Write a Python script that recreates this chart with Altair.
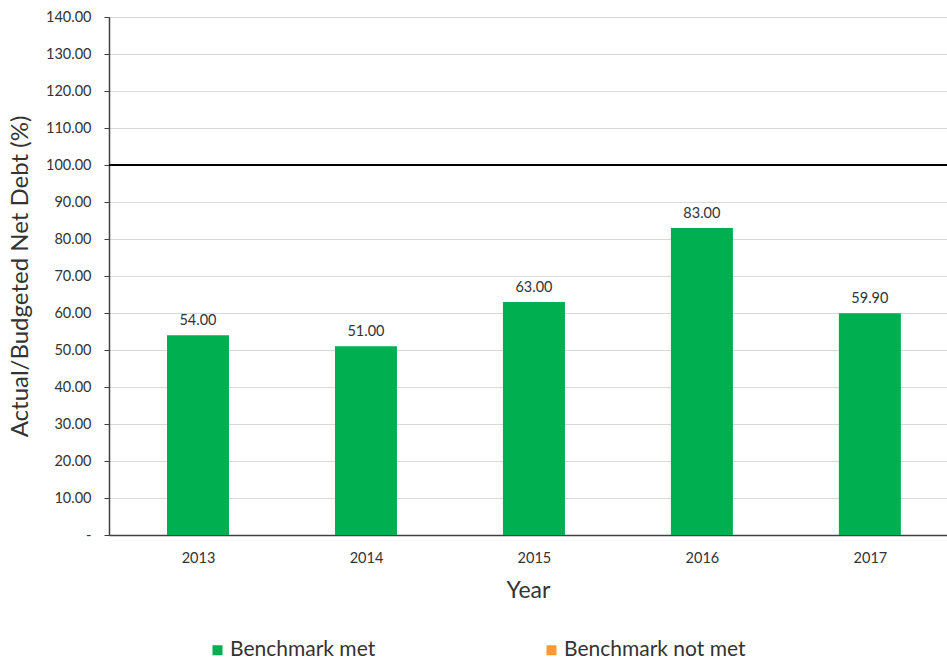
import altair as alt
import pandas as pd

years = [2013, 2014, 2015, 2016, 2017]
values = [54.00, 51.00, 63.00, 83.00, 59.90]
status = ["Benchmark met"] * 5
categories = ["Benchmark met", "Benchmark not met"]
colors = ["#00b050", "#ff9933"]
benchmark = [100]
y_ticks = list(range(0, 141, 10))

df = pd.DataFrame({"Year": years, "Value": values, "Status": status})
ref = pd.DataFrame({"b": benchmark})

FONT = "Lato"
TXT = "#333333"

x_scale = alt.Scale(domain=[2012.5, 2017.4294], nice=False, zero=False)
y_scale = alt.Scale(domain=[0, 140], nice=False)

x = alt.X("Year:Q", scale=x_scale,
          axis=alt.Axis(values=years, tickCount=10, format="d", title="Year", grid=False,
                        ticks=False, labelFontSize=14.5, labelColor=TXT, labelFont=FONT,
                        labelPadding=16, titleFontSize=23, titleFont=FONT,
                        titleFontWeight="normal", titleColor=TXT,
                        titleY=55, titleBaseline="middle",
                        domainColor="#404040", domainWidth=1.5))

bars = alt.Chart(df).mark_bar(size=62).encode(
    x=x,
    y=alt.Y("Value:Q", scale=y_scale,
            axis=alt.Axis(values=y_ticks, tickCount=20, title="Actual/Budgeted Net Debt (%)",
                          labelExpr="datum.value == 0 ? '-' : format(datum.value, '.2f')",
                          labelOverlap=False,
                          labelFontSize=14.5, labelColor=TXT, labelFont=FONT,
                          labelPadding=13, tickSize=5, tickColor="#404040",
                          gridColor="#d9d9d9", gridWidth=1,
                          domainColor="#404040", domainWidth=1.5,
                          titleFontSize=24, titleFont=FONT, titleFontWeight="normal",
                          titleColor=TXT, titleX=-89, titleBaseline="middle")),
    color=alt.Color("Status:N",
                    scale=alt.Scale(domain=categories, range=colors),
                    legend=alt.Legend(title=None, orient="none", direction="horizontal",
                                      legendX=98, legendY=622.5, columns=2,
                                      columnPadding=165, symbolType="square",
                                      symbolSize=100, symbolStrokeWidth=0,
                                      labelFontSize=21, labelFont=FONT, labelColor=TXT,
                                      labelOffset=2, padding=0, labelLimit=400)),
)

labels = alt.Chart(df).mark_text(baseline="bottom", dy=-7, fontSize=14.5,
                                 font=FONT, color=TXT).encode(
    x=alt.X("Year:Q", scale=x_scale),
    y=alt.Y("Value:Q", scale=y_scale),
    text=alt.Text("Value:Q", format=".2f"),
)

rule = alt.Chart(ref).mark_rule(color="black", strokeWidth=2).encode(
    y=alt.Y("b:Q", scale=y_scale)
)

chart = alt.layer(bars, labels, rule).properties(
    width=838, height=518,
    autosize=alt.AutoSizeParams(type="none"),
    padding={"left": 109, "top": 17, "right": 0, "bottom": 124},
).configure_view(stroke=None).configure(background="white")

chart.save("out.html", embed_options={"renderer": "svg", "actions": False})
